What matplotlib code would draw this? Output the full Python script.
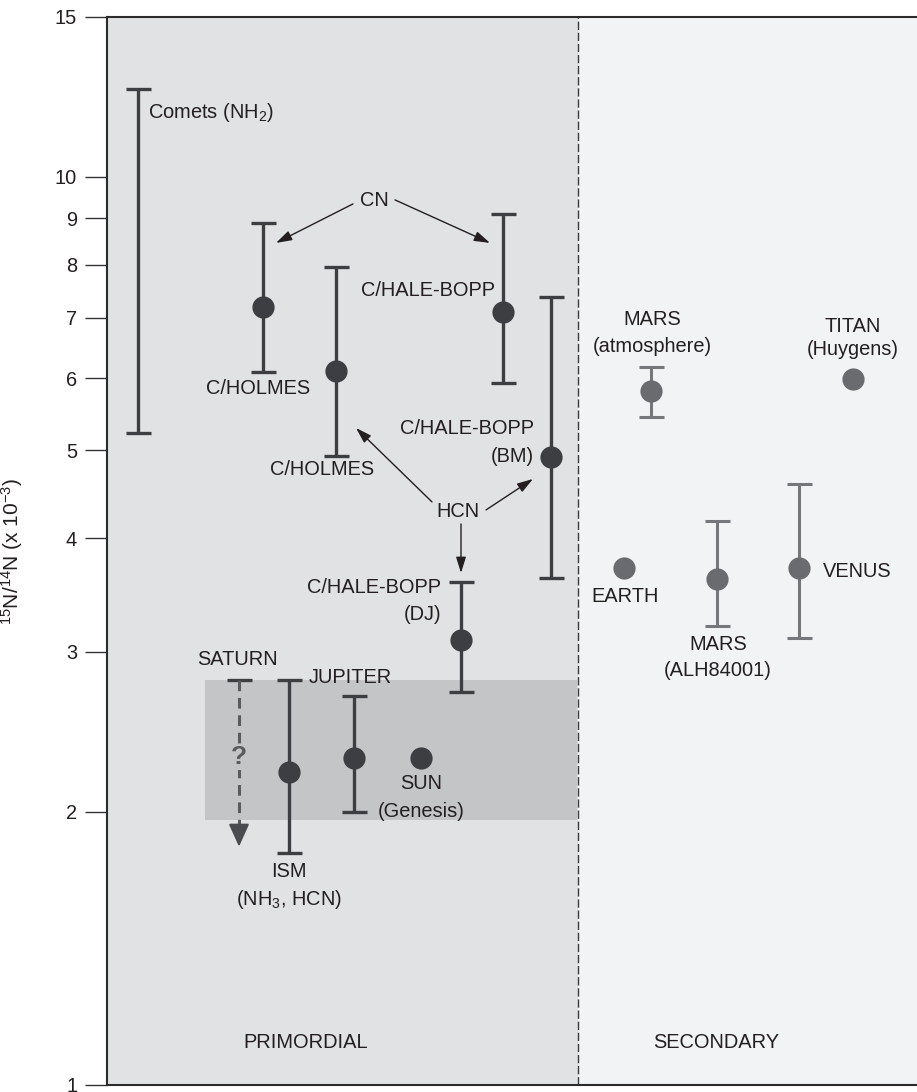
import numpy as np
import matplotlib
matplotlib.use("Agg")
import matplotlib.pyplot as plt
from matplotlib.patches import Rectangle

plt.rcParams['font.family'] = ['Liberation Sans', 'DejaVu Sans']
plt.rcParams['mathtext.fontset'] = 'custom'
plt.rcParams['mathtext.rm'] = 'Liberation Sans'
plt.rcParams['mathtext.it'] = 'Liberation Sans:italic'
plt.rcParams['mathtext.bf'] = 'Liberation Sans:bold'

# ---------------- data ----------------
# primordial objects with a central value
prim_names = ["C/HOLMES (CN)", "C/HOLMES (HCN)", "C/HALE-BOPP (CN)", "C/HALE-BOPP (BM)",
              "C/HALE-BOPP (DJ)", "ISM", "JUPITER", "SUN"]
prim_x = [263, 336, 503, 551, 461, 289, 354, 421]
prim_val = [7.19, 6.11, 7.10, 4.92, 3.09, 2.21, 2.29, 2.29]
prim_lo = [6.10, 4.93, 5.93, 3.62, 2.71, 1.80, 2.00, np.nan]
prim_hi = [8.90, 7.96, 9.10, 7.38, 3.58, 2.79, 2.68, np.nan]

# comets NH2 range (no central value)
comets_x = 138
comets_lo, comets_hi = 5.22, 12.5

# Saturn upper limit
saturn_x = 239
saturn_hi, saturn_lo = 2.79, 1.83

# secondary objects
sec_names = ["MARS (atmosphere)", "TITAN", "EARTH", "MARS (ALH84001)", "VENUS"]
sec_x = [651, 853, 624, 717, 799]
sec_val = [5.81, 5.99, 3.71, 3.61, 3.71]
sec_lo = [5.44, np.nan, np.nan, 3.20, 3.11]
sec_hi = [6.18, np.nan, np.nan, 4.18, 4.59]

# shaded band (range of solar/Jupiter values)
band_lo, band_hi = 1.96, 2.79
band_x0, band_x1 = 205, 577

yticks = [1, 2, 3, 4, 5, 6, 7, 8, 9, 10, 15]

# ---------------- figure ----------------
W, H = 917, 1092
fig = plt.figure(figsize=(W / 100, H / 100), dpi=100)
ax_left, ax_right, ax_top, ax_bot = 107, 917, 17, 1085
ax = fig.add_axes([ax_left / W, (H - ax_bot) / H, (ax_right - ax_left) / W, (ax_bot - ax_top) / H])
ax.set_yscale('log')
ax.set_ylim(1, 15)
ax.set_xlim(ax_left, ax_right)

def yv(py):
    # pixel row -> data value for annotation placement
    return 10 ** ((ax_bot - py) / 908.0)

txtc = '#231f20'
dark = '#3d3e41'
light_pt = '#6a6b6e'
light_bar = '#76777a'
band_col = '#c4c5c7'
divider = 577.5

ax.axvspan(ax_left, divider, color='#e1e2e4', zorder=0, lw=0)
ax.axvspan(divider, ax_right, color='#f2f3f5', zorder=0, lw=0)
ax.add_patch(Rectangle((band_x0, band_lo), band_x1 - band_x0, band_hi - band_lo,
                       facecolor=band_col, edgecolor='none', zorder=1))
ax.axvline(divider, color='#3a3a3a', lw=1.0, ls=(0, (6, 2)), zorder=2)

# comets range
ax.errorbar([comets_x], [comets_lo], yerr=[[0], [comets_hi - comets_lo]], fmt='none',
            ecolor=dark, elinewidth=2.4, capsize=9, capthick=2.4, zorder=3)

# primordial points
for x, v, lo, hi in zip(prim_x, prim_val, prim_lo, prim_hi):
    if not np.isnan(lo):
        ax.errorbar([x], [v], yerr=[[v - lo], [hi - v]], fmt='none', ecolor=dark,
                    elinewidth=2.4, capsize=9, capthick=2.4, zorder=3)
    ax.plot([x], [v], 'o', ms=16, color=dark, mec='none', zorder=4)

# secondary points
for x, v, lo, hi in zip(sec_x, sec_val, sec_lo, sec_hi):
    if not np.isnan(lo):
        ax.errorbar([x], [v], yerr=[[v - lo], [hi - v]], fmt='none', ecolor=light_bar,
                    elinewidth=2.2, capsize=9, capthick=2.2, zorder=3)
    ax.plot([x], [v], 'o', ms=16, color=light_pt, mec='none', zorder=4)

# Saturn upper limit
ax.plot([saturn_x], [saturn_hi], marker='_', ms=18, mew=2.4, color=dark, zorder=3)
ax.plot([saturn_x, saturn_x], [saturn_hi, saturn_lo * 1.03], color='#5a5b5e', lw=2.2,
        ls=(0, (3.5, 2.2)), zorder=3)
ax.annotate('', xy=(saturn_x, saturn_lo), xytext=(saturn_x, saturn_lo * 1.04),
            arrowprops=dict(arrowstyle='-|>,head_length=1.0,head_width=0.45', color='#4a4b4e',
                            lw=1.5, mutation_scale=14, shrinkA=0, shrinkB=0), zorder=4)
ax.text(saturn_x, yv(757), '?', fontsize=19, fontweight='bold', color='#5a5b5e',
        ha='center', va='center', zorder=5,
        bbox=dict(boxstyle='square,pad=0.05', facecolor=band_col, edgecolor='none'))

# labels
fs = 14.4
labels = [
    (148, 113, 'Comets (NH$_2$)', 'left'),
    (374, 201, 'CN', 'center'),
    (258, 389, 'C/HOLMES', 'center'),
    (495, 291, 'C/HALE-BOPP', 'right'),
    (322, 470, 'C/HOLMES', 'center'),
    (534, 429, 'C/HALE-BOPP', 'right'),
    (534, 457, '(BM)', 'right'),
    (458, 512, 'HCN', 'center'),
    (441, 588, 'C/HALE-BOPP', 'right'),
    (441, 615, '(DJ)', 'right'),
    (237, 660, 'SATURN', 'center'),
    (309, 678, 'JUPITER', 'left'),
    (421, 784, 'SUN', 'center'),
    (421, 812, '(Genesis)', 'center'),
    (289, 872, 'ISM', 'center'),
    (289, 900, '(NH$_3$, HCN)', 'center'),
    (306, 1043, 'PRIMORDIAL', 'center'),
    (716, 1043, 'SECONDARY', 'center'),
    (652, 320, 'MARS', 'center'),
    (652, 347, '(atmosphere)', 'center'),
    (853, 327, 'TITAN', 'center'),
    (853, 350, '(Huygens)', 'center'),
    (625, 597, 'EARTH', 'center'),
    (718, 645, 'MARS', 'center'),
    (718, 671, '(ALH84001)', 'center'),
    (823, 572, 'VENUS', 'left'),
]
for x, py, s, ha in labels:
    ax.text(x, yv(py), s, fontsize=fs, color=txtc, ha=ha, va='center', zorder=5)

# arrows
arrows = [
    ((353, 204), (276, 243)),
    ((395, 200), (490, 243)),
    ((432, 502), (356, 428)),
    ((486, 510), (533, 479)),
    ((461, 524), (461, 573)),
]
for (x0, y0), (x1, y1) in arrows:
    ax.annotate('', xy=(x1, yv(y1)), xytext=(x0, yv(y0)),
                arrowprops=dict(arrowstyle='-|>,head_length=0.8,head_width=0.25',
                                color=txtc, lw=1.0, mutation_scale=12,
                                shrinkA=0, shrinkB=0), zorder=5)

# axes styling
ax.set_yticks(yticks)
ax.set_yticklabels([str(t) for t in yticks])
ax.yaxis.set_minor_locator(matplotlib.ticker.NullLocator())
ax.tick_params(axis='y', direction='out', length=16, width=1.0, pad=5.5,
               labelsize=14.4, labelcolor=txtc, color='#333333')
ax.set_xticks([])
for side in ['left', 'top', 'bottom']:
    ax.spines[side].set_color('#2b2b2b')
    ax.spines[side].set_linewidth(1.5)
ax.spines['right'].set_visible(False)

ax.set_ylabel('$^{15}$N/$^{14}$N (x 10$^{-3}$)', fontsize=15, color=txtc)
ax.yaxis.set_label_coords(-(ax_left - 25) / (ax_right - ax_left), 0.5)

fig.savefig('out.png', dpi=100, facecolor='white')
